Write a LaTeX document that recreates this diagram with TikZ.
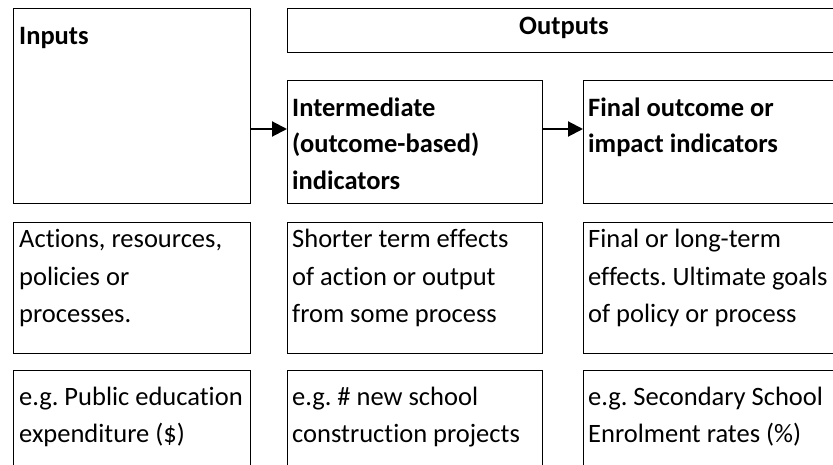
\documentclass[tikz,border=0pt]{standalone}
\usepackage{fontspec}
\setmainfont[Ligatures=NoCommon]{Carlito}
\usetikzlibrary{arrows.meta}
\frenchspacing
\begin{document}
\begin{tikzpicture}[x=1pt,y=-1pt,
  box/.style={draw, line width=1.4pt, anchor=north west, inner sep=0pt},
  lbl/.style={anchor=base west, inner sep=0pt, font=\fontsize{26.5}{37}\selectfont},
  head/.style={anchor=base west, inner sep=0pt, font=\fontsize{26.5}{37}\selectfont\bfseries},
  arr/.style={line width=2pt, -{Triangle[length=15pt,width=15pt]}}]
\useasboundingbox (0,0) rectangle (833,465);
\clip (0,0) rectangle (833,465);
% boxes
\node[box, minimum width=237pt, minimum height=195pt] (inputs) at (13,8) {};
\node[box, minimum width=561pt, minimum height=44pt] (outputs) at (287,8) {};
\node[box, minimum width=255pt, minimum height=123pt] (inter) at (287,80) {};
\node[box, minimum width=265pt, minimum height=123pt] (final) at (583,80) {};
\node[box, minimum width=237pt, minimum height=131pt] (descA) at (13,222) {};
\node[box, minimum width=255pt, minimum height=131pt] (descB) at (287,222) {};
\node[box, minimum width=265pt, minimum height=131pt] (descC) at (583,222) {};
\node[box, minimum width=237pt, minimum height=131pt] (exA) at (13,370) {};
\node[box, minimum width=255pt, minimum height=131pt] (exB) at (287,370) {};
\node[box, minimum width=265pt, minimum height=131pt] (exC) at (583,370) {};
% arrows
\coordinate (ay) at (0,129);
\draw[arr] (inputs.east |- ay) -- (inter.west |- ay);
\draw[arr] (inter.east |- ay) -- (final.west |- ay);
% headings
\node[head] (tInputs) at (19,45) {Inputs};
\node[head, anchor=base] (tOutputs) at (564,35) {Outputs};
\node[head] (tInter1) at (292,117) {Intermediate};
\node[head] (tInter2) at (292,153) {(outcome-based)};
\node[head] (tInter3) at (292,190) {indicators};
\node[head] (tFinal1) at (588,117) {Final outcome or};
\node[head] (tFinal2) at (588,153) {impact indicators};
% descriptions
\node[lbl] (dA1) at (19,248) {Actions, resources,};
\node[lbl] (dA2) at (19,285) {policies or};
\node[lbl] (dA3) at (19,322) {processes.};
\node[lbl] (dB1) at (292,248) {Shorter term effects};
\node[lbl] (dB2) at (292,285) {of action or output};
\node[lbl] (dB3) at (292,322) {from some process};
\node[lbl] (dC1) at (588,248) {Final or long-term};
\node[lbl] (dC2) at (588,285) {effects. Ultimate goals};
\node[lbl] (dC3) at (588,322) {of policy or process};
% examples
\node[lbl] (eA1) at (19,405) {e.g. Public education};
\node[lbl] (eA2) at (19,442) {expenditure (\$)};
\node[lbl] (eB1) at (292,405) {e.g. \# new school};
\node[lbl] (eB2) at (292,442) {construction projects};
\node[lbl] (eC1) at (588,405) {e.g. Secondary School};
\node[lbl] (eC2) at (588,442) {Enrolment rates (\%)};
\end{tikzpicture}
\end{document}
